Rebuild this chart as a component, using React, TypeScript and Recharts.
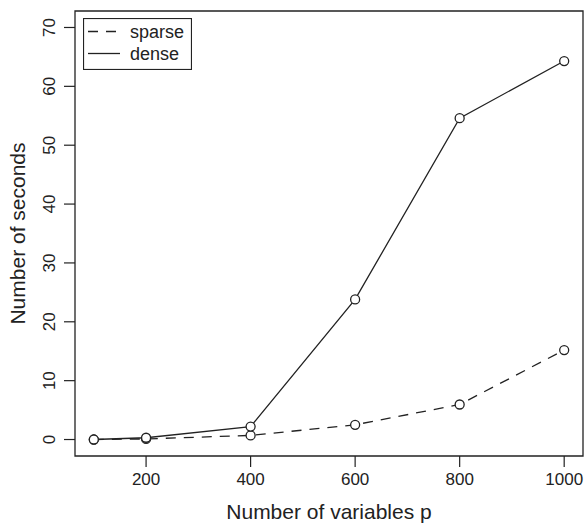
import React from 'react'
import {
  LineChart,
  Line,
  XAxis,
  YAxis,
  Label,
  ReferenceArea,
} from 'recharts'

const variables = [100, 200, 400, 600, 800, 1000]
const sparseSeconds = [0, 0.1, 0.7, 2.5, 5.95, 15.2]
const denseSeconds = [0, 0.3, 2.2, 23.8, 54.6, 64.3]
const xTicks = [200, 400, 600, 800, 1000]
const yTicks = [0, 10, 20, 30, 40, 50, 60, 70]
const seriesNames = ['sparse', 'dense']

const data = variables.map((p, i) => ({
  p,
  sparse: sparseSeconds[i],
  dense: denseSeconds[i],
}))

const ink = '#222'
const font = '"Liberation Sans", Arial, Helvetica, sans-serif'
const dash = '10 8'

// y tick labels are rotated like R's default las=0
const YTick = (props: any) => {
  const { x, y, payload } = props
  const tx = x - 7
  return (
    <text
      x={tx}
      y={y}
      transform={`rotate(-90 ${tx} ${y})`}
      textAnchor="middle"
      fontSize={17}
      fill={ink}
      fontFamily={font}
    >
      {payload.value}
    </text>
  )
}

const Dot = (props: any) => {
  const { cx, cy } = props
  if (cx == null || cy == null) return null
  return <circle cx={cx} cy={cy} r={4.5} fill="#fff" stroke={ink} strokeWidth={1.3} />
}

// legend box drawn on top of the chart, top-left inside the frame
const LegendBox = () => (
  <svg
    width={109}
    height={52}
    style={{ position: 'absolute', left: 83, top: 18 }}
  >
    <rect x={0.5} y={0.5} width={108} height={51} fill="#fff" stroke={ink} strokeWidth={1.2} />
    {seriesNames.map((name, i) => (
      <g key={name}>
        <line
          x1={5}
          x2={37}
          y1={13.5 + i * 22}
          y2={13.5 + i * 22}
          stroke={ink}
          strokeWidth={1.3}
          strokeDasharray={name === 'sparse' ? dash : undefined}
        />
        <text x={47} y={20 + i * 22} fontSize={18} fill={ink} fontFamily={font}>
          {name}
        </text>
      </g>
    ))}
  </svg>
)

const App = () => {
  return (
    <div style={{ position: 'absolute', left: 0, top: 0, background: '#fff' }}>
      <LineChart
        width={587}
        height={525}
        data={data}
        margin={{ top: 11, right: 4, bottom: 0, left: 0 }}
      >
        <XAxis
          dataKey="p"
          type="number"
          domain={[64, 1036]}
          ticks={xTicks}
          axisLine={false}
          tickSize={11}
          tickLine={{ stroke: ink, strokeWidth: 1.2 }}
          tick={{ fontSize: 17, fill: ink, fontFamily: font, dy: 4 }}
          height={69}
          allowDataOverflow
        >
          <Label
            value="Number of variables p"
            position="insideBottom"
            offset={6}
            style={{ fontSize: 21, fill: ink, fontFamily: font }}
          />
        </XAxis>
        <YAxis
          type="number"
          domain={[-2.8, 72.8]}
          ticks={yTicks}
          axisLine={false}
          tickSize={11}
          tickLine={{ stroke: ink, strokeWidth: 1.2 }}
          tick={<YTick />}
          width={75}
          allowDataOverflow
        >
          <Label
            content={(p: any) => {
              const vb = p.viewBox
              const cy = vb.y + vb.height / 2
              return (
                <text
                  x={25}
                  y={cy}
                  transform={`rotate(-90 25 ${cy})`}
                  textAnchor="middle"
                  fontSize={21}
                  fill={ink}
                  fontFamily={font}
                >
                  Number of seconds
                </text>
              )
            }}
          />
        </YAxis>
        <ReferenceArea
          x1={64}
          x2={1036}
          y1={-2.8}
          y2={72.8}
          fill="none"
          stroke={ink}
          strokeWidth={1.3}
          fillOpacity={0}
        />
        <Line
          name="sparse"
          dataKey="sparse"
          stroke={ink}
          strokeWidth={1.3}
          strokeDasharray={dash}
          type="linear"
          dot={<Dot />}
          isAnimationActive={false}
        />
        <Line
          name="dense"
          dataKey="dense"
          stroke={ink}
          strokeWidth={1.3}
          type="linear"
          dot={<Dot />}
          isAnimationActive={false}
        />
      </LineChart>
      <LegendBox />
    </div>
  )
}

export default App
